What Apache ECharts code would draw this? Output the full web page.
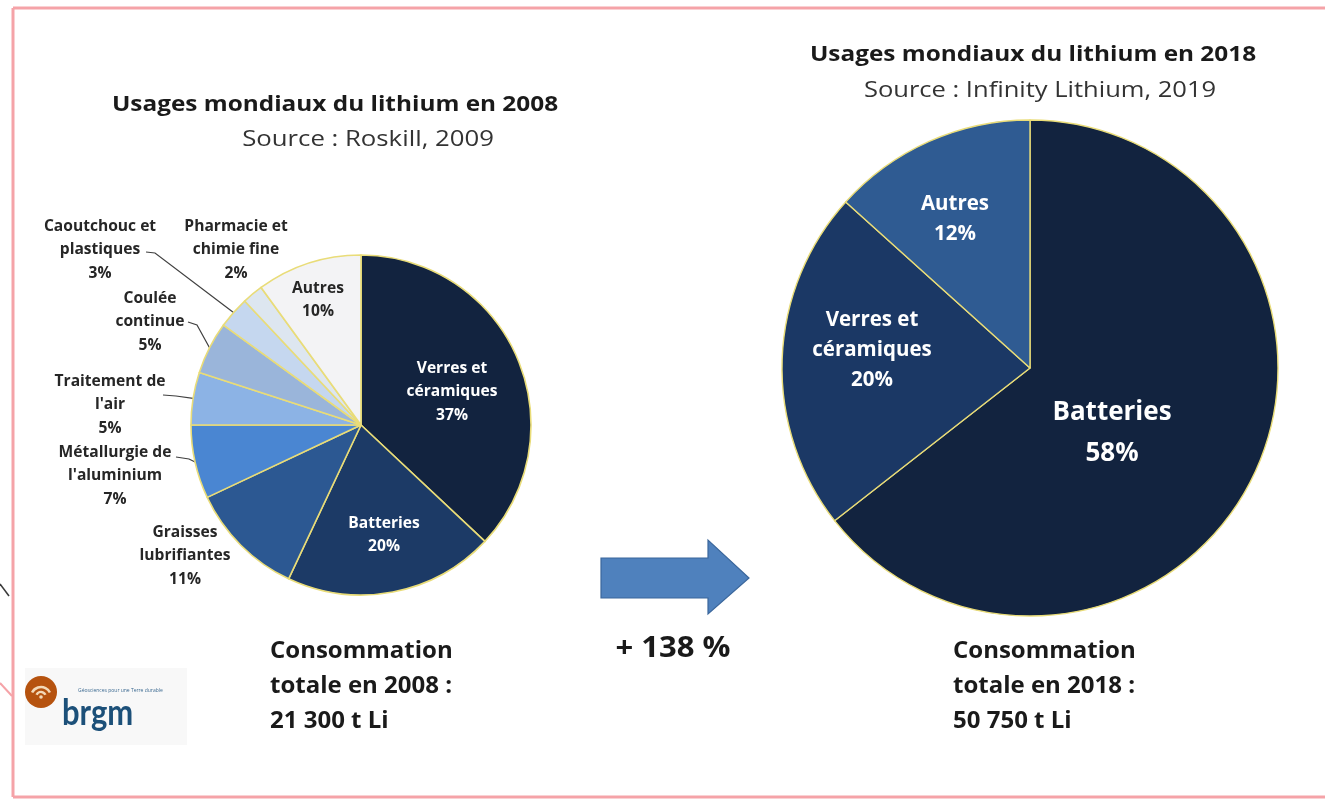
<!DOCTYPE html>
<html>
<head>
<meta charset="utf-8">
<script src="https://cdn.jsdelivr.net/npm/echarts@6/dist/echarts.min.js"></script>
<style>
  html, body { margin: 0; padding: 0; background: #ffffff; }
  #chart { width: 1325px; height: 800px; }
</style>
</head>
<body>
<div id="chart"></div>
<script>
// Lithium end uses, 2008 (Roskill) and 2018 (Infinity Lithium)
const uses2008 = ['Verres et\ncéramiques', 'Batteries', 'Graisses\nlubrifiantes', 'Métallurgie de\nl\'aluminium',
                  'Traitement de\nl\'air', 'Coulée\ncontinue', 'Caoutchouc et\nplastiques', 'Pharmacie et\nchimie fine', 'Autres'];
const shares2008 = [37, 20, 11, 7, 5, 5, 3, 2, 10];

const uses2018 = ['Batteries', 'Verres et\ncéramiques', 'Autres'];
const shares2018 = [58, 20, 12];

const totals = ['21 300 t Li', '50 750 t Li'];
const growth = '+ 138 %';

// Styling
const FONT = '"Open Sans", Lato, sans-serif';
const colors2008 = ['#12233f', '#1c3a66', '#2c5892', '#4a86d2', '#8cb3e5', '#9ab5da', '#c5d7ef', '#dde6f0', '#f3f3f5'];
const colors2018 = ['#12233f', '#1b3865', '#2f5b92'];
const labelColor2008 = ['#ffffff', '#ffffff', '#262626', '#262626', '#262626', '#262626', '#262626', '#262626', '#262626'];
const sliceEdge = '#e9dc78';

// where each label sits (page pixels) and the label end of its leader line
const spots2008 = [[452, 392], [384, 535], [185, 556], [115, 476], [110, 405], [150, 322], [100, 250], [236, 250], [318, 300]];
const leaders2008 = {
  3: [[176, 457], [189, 459]],
  4: [[163, 395], [176, 396]],
  5: [[188, 322], [197, 325]],
  6: [[146, 252], [155, 253]]
};
const spots2018 = [[1112, 433], [872, 350], [955, 219]];

const chart = echarts.init(document.getElementById('chart'), null, { renderer: 'canvas' });

const textG = (x, y, text, size, weight, align, color, sx) => ({
  type: 'text', x, y, silent: true, scaleX: sx || 1, originX: 0, originY: 0,
  style: { text, fontFamily: FONT, fontSize: size, fontWeight: weight, fill: color || '#1a1a1a',
           textAlign: align || 'center', textVerticalAlign: 'middle', lineHeight: Math.round(size * 1.45) }
});

const option = {
  backgroundColor: '#ffffff',
  animation: false,
  series: [
    {
      type: 'pie',
      center: [361, 425],
      radius: [0, 170],
      startAngle: 90,
      clockwise: true,
      avoidLabelOverlap: false,
      itemStyle: { borderColor: sliceEdge, borderWidth: 1.6 },
      label: {
        show: true,
        formatter: '{b}\n{c}%',
        fontFamily: FONT, fontWeight: 'bold', fontSize: 15.6, lineHeight: 23.5,
        align: 'center'
      },
      labelLine: { show: false, lineStyle: { color: '#404040', width: 1.2 } },
      labelLayout: function (p) {
        const s = spots2008[p.dataIndex];
        const out = { x: s[0], y: s[1], align: 'center', verticalAlign: 'middle' };
        const l = leaders2008[p.dataIndex];
        if (l && p.labelLinePoints) {
          out.labelLinePoints = [p.labelLinePoints[0], l[1], l[0]];
        }
        return out;
      },
      data: uses2008.map((n, i) => ({
        name: n,
        value: shares2008[i],
        itemStyle: { color: colors2008[i] },
        label: { color: labelColor2008[i] },
        labelLine: { show: !!leaders2008[i] }
      }))
    },
    {
      type: 'pie',
      center: [1030, 368],
      radius: [0, 248],
      startAngle: 90,
      clockwise: true,
      avoidLabelOverlap: false,
      itemStyle: { borderColor: sliceEdge, borderWidth: 1.4 },
      label: {
        show: true,
        formatter: function (p) {
          return p.dataIndex === 0 ? '{big|' + p.name + '\n' + p.value + '%}' : p.name + '\n' + p.value + '%';
        },
        color: '#ffffff',
        fontFamily: FONT, fontWeight: 'bold', fontSize: 20.5, lineHeight: 30,
        align: 'center',
        rich: { big: { fontFamily: FONT, fontWeight: 'bold', fontSize: 26, lineHeight: 41, color: '#ffffff', align: 'center' } }
      },
      labelLine: { show: false },
      labelLayout: function (p) {
        const s = spots2018[p.dataIndex];
        return { x: s[0], y: s[1], align: 'center', verticalAlign: 'middle' };
      },
      data: uses2018.map((n, i) => ({ name: n, value: shares2018[i], itemStyle: { color: colors2018[i] } }))
    }
  ],
  graphic: [
    // slide frame
    { type: 'line', silent: true, shape: { x1: 13, y1: 8, x2: 1325, y2: 8 }, style: { stroke: '#f5a3a8', lineWidth: 3 } },
    { type: 'line', silent: true, shape: { x1: 13, y1: 8, x2: 13, y2: 797 }, style: { stroke: '#f5a3a8', lineWidth: 3 } },
    { type: 'line', silent: true, shape: { x1: 13, y1: 797, x2: 1325, y2: 797 }, style: { stroke: '#f5a3a8', lineWidth: 3 } },
    { type: 'line', silent: true, shape: { x1: 0, y1: 683, x2: 12, y2: 696 }, style: { stroke: '#f5a3a8', lineWidth: 2 } },
    { type: 'line', silent: true, shape: { x1: 0, y1: 584, x2: 9, y2: 596 }, style: { stroke: '#3a3a3a', lineWidth: 1.5 } },

    // titles
    textG(335, 105, 'Usages mondiaux du lithium en 2008', 21, 'bold', 'center', '#1a1a1a', 1.16),
    textG(368, 140, 'Source : Roskill, 2009', 22, 'normal', 'center', '#333333', 1.17),
    textG(1033, 55, 'Usages mondiaux du lithium en 2018', 21, 'bold', 'center', '#1a1a1a', 1.16),
    textG(1040, 91, 'Source : Infinity Lithium, 2019', 22, 'normal', 'center', '#333333', 1.16),

    // totals
    textG(270, 686, 'Consommation\ntotale en 2008 :\n' + totals[0], 24, 'bold', 'left'),
    textG(953, 686, 'Consommation\ntotale en 2018 :\n' + totals[1], 24, 'bold', 'left'),

    // growth arrow
    {
      type: 'polygon', silent: true,
      shape: { points: [[601, 558], [708, 558], [708, 540], [749, 578], [708, 614], [708, 598], [601, 598]] },
      style: { fill: '#4f81bd', stroke: '#3b679c', lineWidth: 1.2 }
    },
    textG(673, 649, growth, 29, 'bold', 'center', '#1a1a1a', 1.07),

    // brgm logo
    { type: 'rect', silent: true, shape: { x: 25, y: 668, width: 162, height: 77 }, style: { fill: '#f8f8f8' } },
    { type: 'circle', silent: true, shape: { cx: 41, cy: 692, r: 16 }, style: { fill: '#b6530f' } },
    { type: 'arc', silent: true, shape: { cx: 41, cy: 697, r: 10, startAngle: Math.PI * 1.15, endAngle: Math.PI * 1.85 }, style: { stroke: '#f3d9b8', lineWidth: 2.5, fill: null } },
    { type: 'arc', silent: true, shape: { cx: 41, cy: 697, r: 5, startAngle: Math.PI * 1.15, endAngle: Math.PI * 1.85 }, style: { stroke: '#f3d9b8', lineWidth: 2.5, fill: null } },
    { type: 'circle', silent: true, shape: { cx: 41, cy: 697, r: 1.8 }, style: { fill: '#f3d9b8' } },
    {
      type: 'text', x: 62, y: 713, silent: true, scaleX: 0.86,
      style: { text: 'brgm', fontFamily: 'Lato, sans-serif', fontSize: 36, fontWeight: 'bold', fill: '#1c5079', textAlign: 'left', textVerticalAlign: 'middle' }
    },
    textG(78, 691, 'Géosciences pour une Terre durable', 5, 'normal', 'left', '#3d6b92')
  ]
};

chart.setOption(option);
</script>
</body>
</html>
